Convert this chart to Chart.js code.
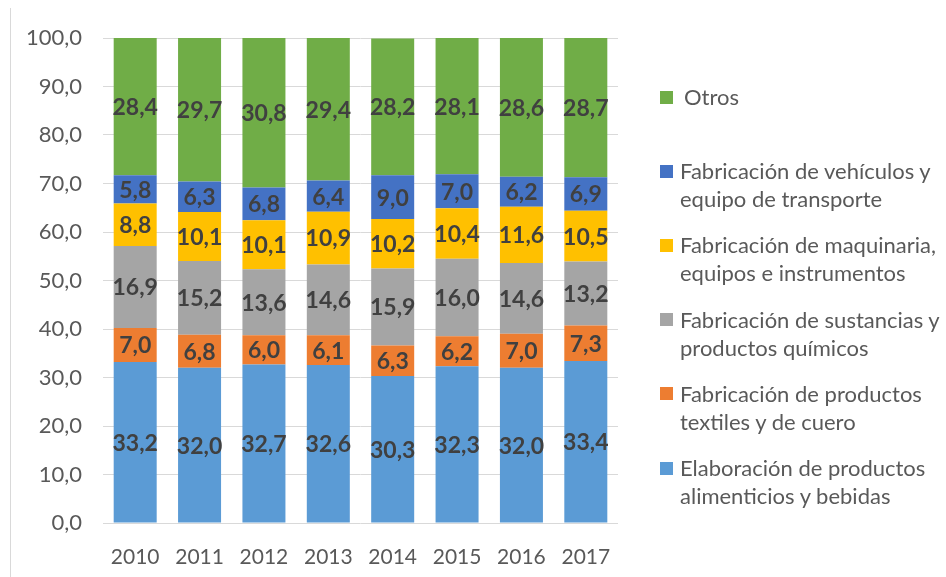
<!DOCTYPE html>
<html>
<head>
<meta charset="utf-8">
<script src="https://cdn.jsdelivr.net/npm/chart.js@4/dist/chart.umd.min.js"></script>
<style>
  html, body { margin:0; padding:0; background:#fff; }
  #wrap { position:relative; width:946px; height:577px; overflow:hidden; }
  #frame { position:absolute; left:10px; top:8px; width:0; height:580px; border-left:1px solid #d9d9d9; }
  canvas { position:absolute; left:0; top:0; }
  #legend { position:absolute; left:660px; top:0; font-family: Lato, "Open Sans", sans-serif; font-size:22px; color:#595959; }
  .item { position:absolute; left:0; width:290px; }
  .sw { position:absolute; left:0; width:13px; height:13px; }
  .tx { position:absolute; left:20px; line-height:28px; white-space:nowrap; }
</style>
</head>
<body>
<div id="wrap">
  <div id="frame"></div>
  <canvas id="c" width="946" height="577"></canvas>
  <div id="legend"></div>
</div>
<script>
const years = ["2010","2011","2012","2013","2014","2015","2016","2017"];
const alimentos  = [33.2, 32.0, 32.7, 32.6, 30.3, 32.3, 32.0, 33.4];
const textiles   = [7.0, 6.8, 6.0, 6.1, 6.3, 6.2, 7.0, 7.3];
const quimicos   = [16.9, 15.2, 13.6, 14.6, 15.9, 16.0, 14.6, 13.2];
const maquinaria = [8.8, 10.1, 10.1, 10.9, 10.2, 10.4, 11.6, 10.5];
const vehiculos  = [5.8, 6.3, 6.8, 6.4, 9.0, 7.0, 6.2, 6.9];
const otros      = [28.4, 29.7, 30.8, 29.4, 28.2, 28.1, 28.6, 28.7];
const yTicks = [0,10,20,30,40,50,60,70,80,90,100];

const seriesNames = [
  ["Elaboración de productos", "alimenticios y bebidas"],
  ["Fabricación de productos", "textiles y de cuero"],
  ["Fabricación de sustancias y", "productos químicos"],
  ["Fabricación de maquinaria,", "equipos e instrumentos"],
  ["Fabricación de vehículos y", "equipo de transporte"],
  ["Otros"]
];
const seriesData = [alimentos, textiles, quimicos, maquinaria, vehiculos, otros];
const colors = ["#5B9BD5", "#ED7D31", "#A5A5A5", "#FFC000", "#4472C4", "#70AD47"];

const FONT = 'Lato, "Open Sans", sans-serif';

const labelPlugin = {
  id: 'segLabels',
  afterDatasetsDraw(chart) {
    const ctx = chart.ctx;
    ctx.save();
    ctx.font = 'bold 23px ' + FONT;
    ctx.fillStyle = '#404040';
    ctx.textAlign = 'center';
    ctx.textBaseline = 'middle';
    chart.data.datasets.forEach((ds, di) => {
      const meta = chart.getDatasetMeta(di);
      meta.data.forEach((el, i) => {
        const top = Math.max(el.y, chart.chartArea.top);
        const yc = (top + el.base) / 2;
        ctx.fillText(ds.data[i].toFixed(1).replace('.', ','), el.x, yc + 1);
      });
    });
    ctx.restore();
  }
};

const chart = new Chart(document.getElementById('c'), {
  type: 'bar',
  data: {
    labels: years,
    datasets: seriesData.map((d, i) => ({
      label: seriesNames[i].join(' '),
      data: d,
      backgroundColor: colors[i],
      borderWidth: 0,
      categoryPercentage: 1.0,
      barPercentage: 0.668
    }))
  },
  options: {
    responsive: false,
    animation: false,
    events: [],
    layout: { padding: { left: 0, right: 328, top: 38, bottom: 0 } },
    plugins: { legend: { display: false }, tooltip: { enabled: false } },
    scales: {
      x: {
        stacked: true,
        grid: { display: false },
        border: { display: false },
        ticks: { color: '#595959', font: { family: FONT, size: 21 }, padding: 14 },
        afterFit(s) { s.height = 54; }
      },
      y: {
        stacked: true,
        min: 0, max: 100,
        afterBuildTicks(s) { s.ticks = yTicks.map(v => ({ value: v })); },
        grid: { color: '#D9D9D9', lineWidth: 1, drawTicks: false },
        border: { display: false },
        ticks: {
          color: '#595959',
          font: { family: FONT, size: 22 },
          padding: 21,
          callback: v => v.toFixed(1).replace('.', ',')
        },
        afterFit(s) { s.width = 103; }
      }
    }
  },
  plugins: [labelPlugin]
});

// HTML legend (reverse order, like the original)
const legend = document.getElementById('legend');
const order = [5,4,3,2,1,0];
order.forEach((si, k) => {
  const c1 = 97 + 74.2 * k; // center of first line
  const item = document.createElement('div');
  item.className = 'item';
  const sw = document.createElement('div');
  sw.className = 'sw';
  sw.style.background = colors[si];
  sw.style.top = (c1 - 6.5) + 'px';
  const tx = document.createElement('div');
  tx.className = 'tx';
  tx.style.top = (c1 - 14) + 'px';
  if (si === 5) tx.style.left = '24px';
  tx.innerHTML = seriesNames[si].join('<br>');
  item.appendChild(sw);
  item.appendChild(tx);
  legend.appendChild(item);
});
</script>
</body>
</html>
